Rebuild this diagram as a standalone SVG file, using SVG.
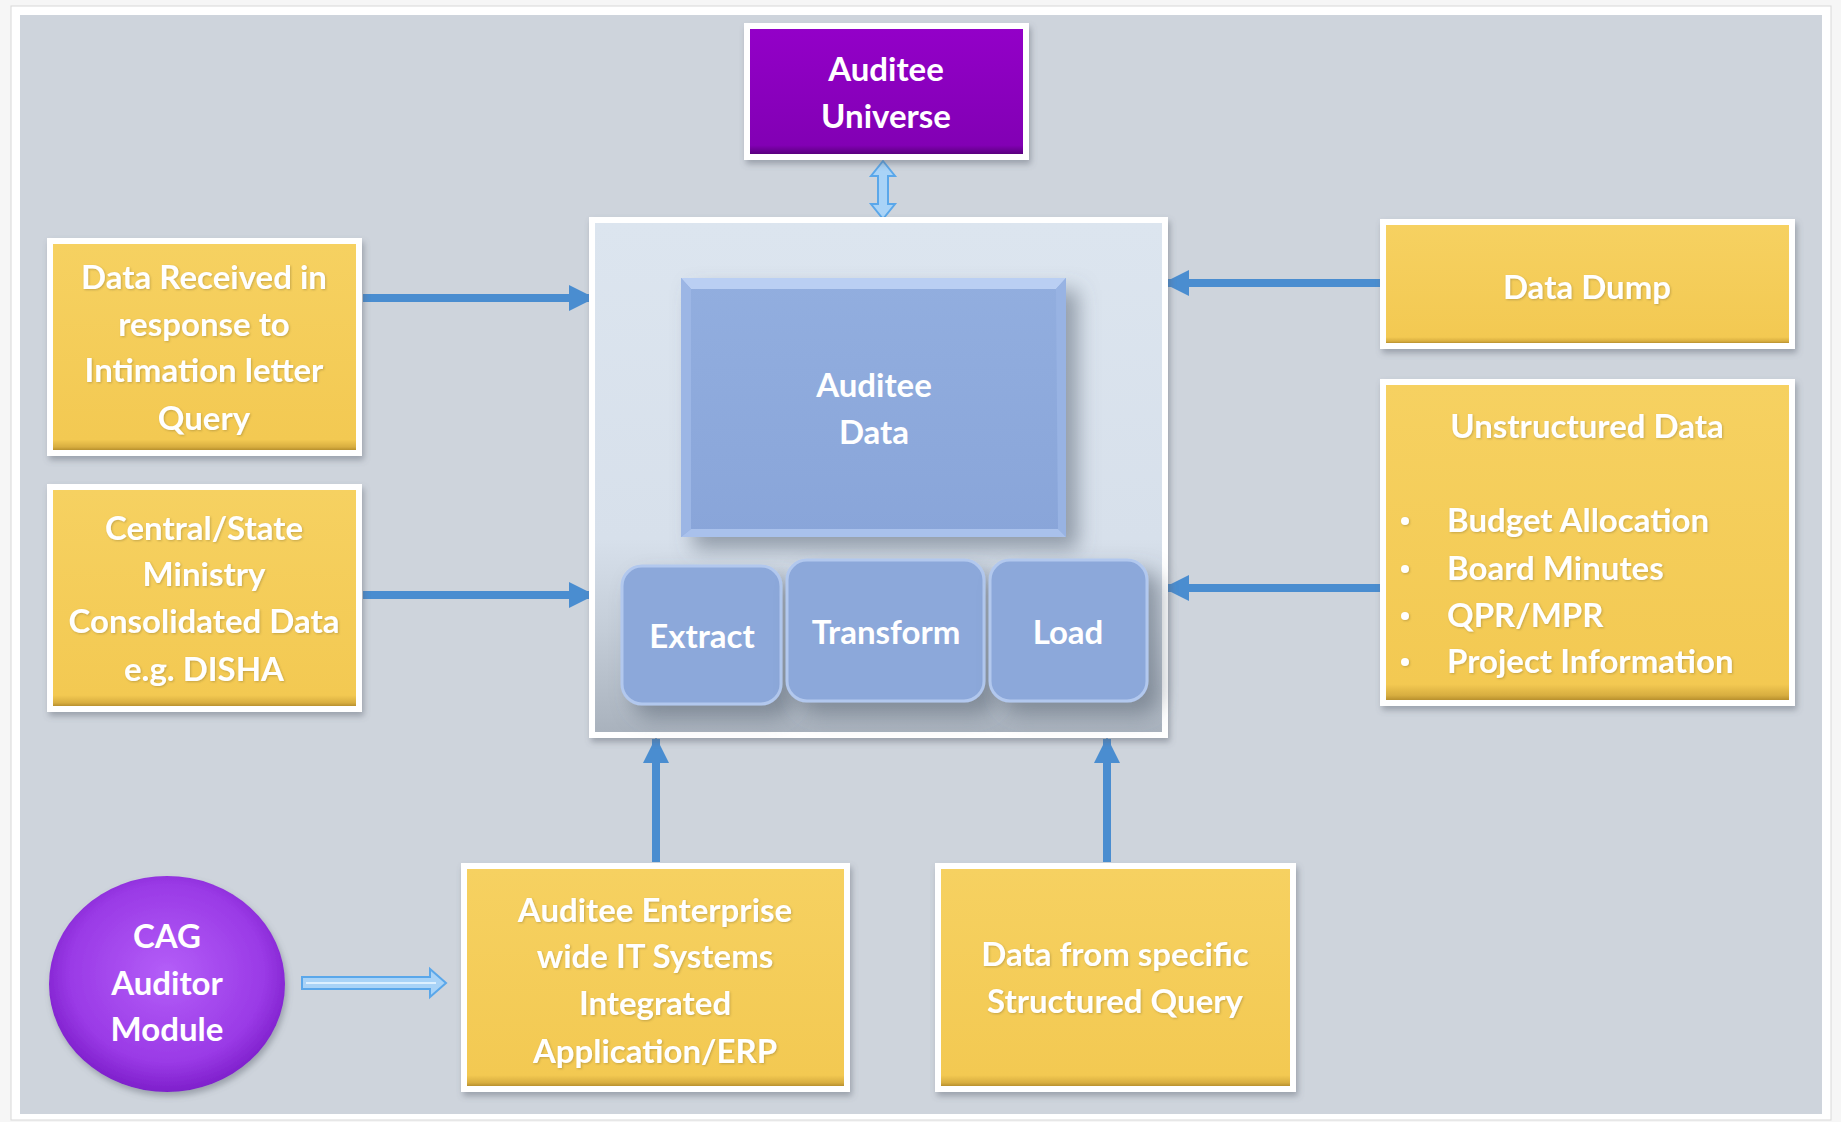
<svg xmlns="http://www.w3.org/2000/svg" width="1841" height="1122" viewBox="0 0 1841 1122">
<style>
.t{font-family:Lato,"Liberation Sans",sans-serif;font-weight:700;font-size:33px;fill:#ffffff;text-anchor:middle}
.tl{text-anchor:start}
.frame{fill:#ffffff}
.yel{fill:url(#gYel)}
.conn{stroke:#4A8DD0;stroke-width:8;fill:none;marker-end:url(#ah)}
.hollow{fill:#A9D3F7;stroke:#5AA7EA;stroke-width:2}
</style>
<defs>
<linearGradient id="gYel" x1="0" y1="0" x2="0" y2="1">
<stop offset="0" stop-color="#F6D161"/>
<stop offset="0.95" stop-color="#F3C952"/>
<stop offset="0.985" stop-color="#D8AE40"/>
<stop offset="1" stop-color="#B8902E"/>
</linearGradient>
<linearGradient id="gPur" x1="0" y1="0" x2="0" y2="1">
<stop offset="0" stop-color="#9300C8"/>
<stop offset="0.93" stop-color="#8200B4"/>
<stop offset="1" stop-color="#5A007E"/>
</linearGradient>
<radialGradient id="gCag" cx="0.5" cy="0.45" r="0.55">
<stop offset="0" stop-color="#B45EF8"/>
<stop offset="0.75" stop-color="#9A3AE6"/>
<stop offset="1" stop-color="#7E1FCB"/>
</radialGradient>
<linearGradient id="gCont" x1="0" y1="0" x2="0" y2="1">
<stop offset="0" stop-color="#DCE5EF"/>
<stop offset="0.62" stop-color="#D7E0EB"/>
<stop offset="0.8" stop-color="#C4CDD8"/>
<stop offset="1" stop-color="#A9B2BD"/>
</linearGradient>
<linearGradient id="gBlue" x1="0" y1="0" x2="0" y2="1">
<stop offset="0" stop-color="#92AEDF"/>
<stop offset="1" stop-color="#89A5D9"/>
</linearGradient>
<filter id="sh" x="-10%" y="-10%" width="125%" height="130%">
<feDropShadow dx="2" dy="4" stdDeviation="3" flood-color="#5a6270" flood-opacity="0.45"/>
</filter>
<filter id="bigsh" x="-10%" y="-10%" width="130%" height="135%">
<feDropShadow dx="12" dy="12" stdDeviation="10" flood-color="#5a6472" flood-opacity="0.55"/>
</filter>
<filter id="tsh" x="-5%" y="-20%" width="110%" height="140%">
<feDropShadow dx="1" dy="1" stdDeviation="1" flood-color="#6b5a2a" flood-opacity="0.35"/>
</filter>
<marker id="ah" markerUnits="userSpaceOnUse" markerWidth="26" markerHeight="26" refX="24" refY="13" orient="auto">
<path d="M0,0 L26,13 L0,26 Z" fill="#4A8DD0"/>
</marker>
</defs>

<!-- background -->
<rect x="0" y="0" width="1841" height="1122" fill="#F6F6F6"/>
<rect x="11" y="6" width="1820" height="1114" fill="#ffffff" stroke="#D8D8D8" stroke-width="1"/>
<rect x="20" y="15" width="1802" height="1099" fill="#CED4DC"/>

<!-- connectors -->
<g id="connectors">
<line class="conn" x1="363" y1="298" x2="593" y2="298"/>
<line class="conn" x1="363" y1="595" x2="593" y2="595"/>
<line class="conn" x1="1381" y1="283" x2="1165" y2="283"/>
<line class="conn" x1="1381" y1="588" x2="1165" y2="588"/>
<line class="conn" x1="656" y1="862" x2="656" y2="739"/>
<line class="conn" x1="1107" y1="862" x2="1107" y2="739"/>
<polygon class="hollow" points="883,161 895,176 888,176 888,204 895,204 883,219 871,204 878,204 878,176 871,176"/>
<polygon class="hollow" points="302,977 430,977 430,969 446,983 430,997 430,989 302,989"/>
<line x1="306" y1="983" x2="436" y2="983" stroke="#DDF0FF" stroke-width="2"/>
</g>

<!-- Auditee Universe -->
<g id="auditee-universe">
<rect class="frame" x="744" y="23" width="285" height="137" filter="url(#sh)"/>
<rect x="750" y="29" width="273" height="125" fill="url(#gPur)"/>
<text class="t" x="886" y="81">Auditee</text>
<text class="t" x="886" y="128">Universe</text>
</g>

<!-- Central container -->
<g id="auditee-data-container">
<rect class="frame" x="589" y="217" width="579" height="521" filter="url(#sh)"/>
<rect x="595" y="223" width="567" height="509" fill="url(#gCont)"/>
</g>

<g id="auditee-data">
<rect x="681" y="278" width="385" height="259" fill="url(#gBlue)" filter="url(#bigsh)"/>
<polygon points="681,278 1066,278 1056,289 691,289" fill="#BACFF3"/>
<polygon points="681,278 691,289 691,529 681,537" fill="#9CB6E5"/>
<polygon points="1066,278 1066,537 1058,529 1056,289" fill="#98B3E3"/>
<polygon points="681,537 691,529 1058,529 1066,537" fill="#A9C1EC"/>
<text class="t" x="874" y="397">Auditee</text>
<text class="t" x="874" y="444">Data</text>
</g>

<g id="extract">
<rect x="622" y="566" width="159" height="138" rx="20" fill="#8CA8DA" stroke="#B2C8EE" stroke-width="3" filter="url(#bigsh)"/>
<text class="t" x="702" y="648">Extract</text>
</g>
<g id="transform">
<rect x="787" y="560" width="197" height="141" rx="20" fill="#8CA8DA" stroke="#B2C8EE" stroke-width="3" filter="url(#bigsh)"/>
<text class="t" x="886" y="644">Transform</text>
</g>
<g id="load">
<rect x="990" y="560" width="157" height="141" rx="20" fill="#8CA8DA" stroke="#B2C8EE" stroke-width="3" filter="url(#bigsh)"/>
<text class="t" x="1068" y="644">Load</text>
</g>

<!-- Left boxes -->
<g id="data-received">
<rect class="frame" x="47" y="238" width="315" height="218" filter="url(#sh)"/>
<rect class="yel" x="53" y="244" width="303" height="206"/>
<g filter="url(#tsh)">
<text class="t" x="204" y="289">Data Received in</text>
<text class="t" x="204" y="336">response to</text>
<text class="t" x="204" y="382">Intimation letter</text>
<text class="t" x="204" y="430">Query</text>
</g>
</g>

<g id="central-state">
<rect class="frame" x="47" y="484" width="315" height="228" filter="url(#sh)"/>
<rect class="yel" x="53" y="490" width="303" height="216"/>
<g filter="url(#tsh)">
<text class="t" x="204" y="540">Central/State</text>
<text class="t" x="204" y="586">Ministry</text>
<text class="t" x="204" y="633">Consolidated Data</text>
<text class="t" x="204" y="681">e.g. DISHA</text>
</g>
</g>

<!-- Right boxes -->
<g id="data-dump">
<rect class="frame" x="1380" y="219" width="415" height="130" filter="url(#sh)"/>
<rect class="yel" x="1386" y="225" width="403" height="118"/>
<text class="t" x="1587" y="299" filter="url(#tsh)">Data Dump</text>
</g>

<g id="unstructured-data">
<rect class="frame" x="1380" y="379" width="415" height="327" filter="url(#sh)"/>
<rect class="yel" x="1386" y="385" width="403" height="315"/>
<g filter="url(#tsh)">
<text class="t" x="1587" y="438">Unstructured Data</text>
<circle cx="1405" cy="521" r="4" fill="#ffffff"/>
<circle cx="1405" cy="569" r="4" fill="#ffffff"/>
<circle cx="1405" cy="616" r="4" fill="#ffffff"/>
<circle cx="1405" cy="662" r="4" fill="#ffffff"/>
<text class="t tl" x="1447" y="532">Budget Allocation</text>
<text class="t tl" x="1447" y="580">Board Minutes</text>
<text class="t tl" x="1447" y="627">QPR/MPR</text>
<text class="t tl" x="1447" y="673">Project Information</text>
</g>
</g>

<!-- Bottom -->
<g id="cag-auditor-module">
<ellipse cx="167" cy="984" rx="118" ry="108" fill="url(#gCag)" filter="url(#sh)"/>
<text class="t" x="167" y="948">CAG</text>
<text class="t" x="167" y="995">Auditor</text>
<text class="t" x="167" y="1041">Module</text>
</g>

<g id="auditee-enterprise">
<rect class="frame" x="461" y="863" width="389" height="229" filter="url(#sh)"/>
<rect class="yel" x="467" y="869" width="377" height="217"/>
<g filter="url(#tsh)">
<text class="t" x="655" y="922">Auditee Enterprise</text>
<text class="t" x="655" y="968">wide IT Systems</text>
<text class="t" x="655" y="1015">Integrated</text>
<text class="t" x="655" y="1063">Application/ERP</text>
</g>
</g>

<g id="structured-query">
<rect class="frame" x="935" y="863" width="361" height="229" filter="url(#sh)"/>
<rect class="yel" x="941" y="869" width="349" height="217"/>
<g filter="url(#tsh)">
<text class="t" x="1115" y="966">Data from specific</text>
<text class="t" x="1115" y="1013">Structured Query</text>
</g>
</g>
</svg>
